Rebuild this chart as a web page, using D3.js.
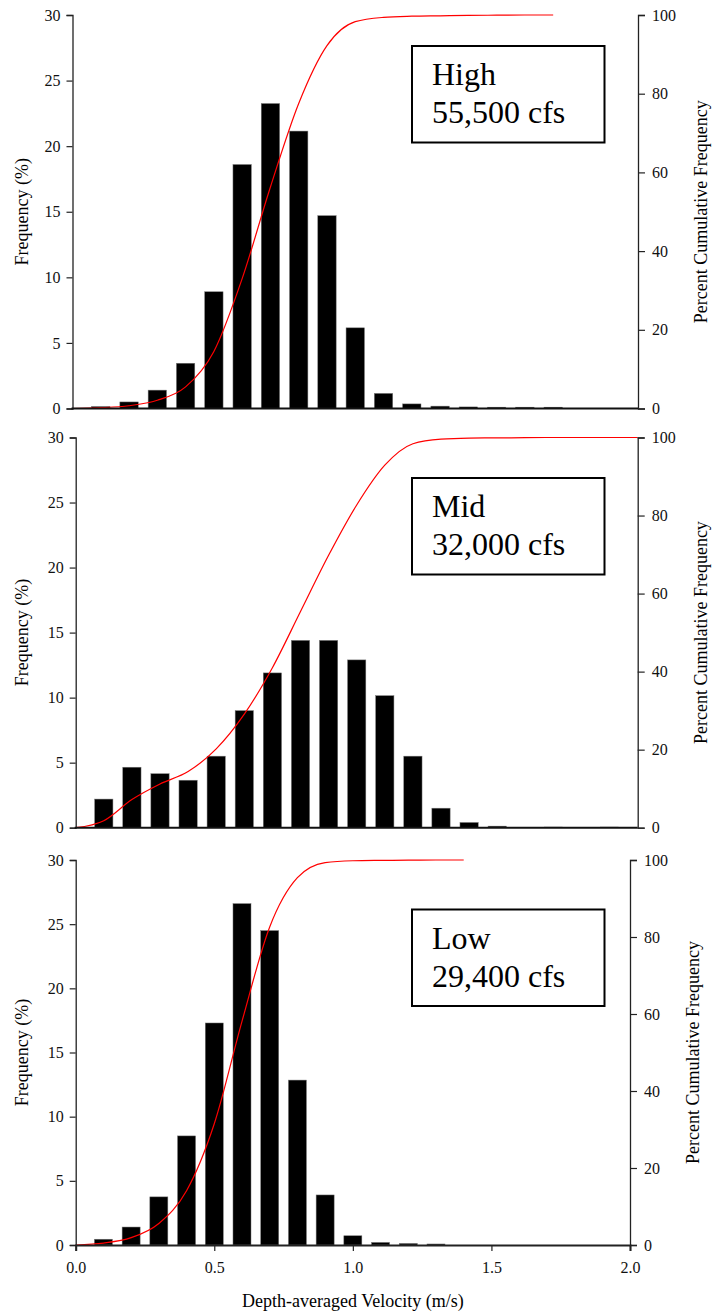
<!DOCTYPE html>
<html>
<head>
<meta charset="utf-8">
<script src="https://cdn.jsdelivr.net/npm/d3@7"></script>
<style>
  body { margin: 0; background: #fff; }
  svg { display: block; font-family: "Liberation Serif", "Times New Roman", serif; }
</style>
</head>
<body>
<svg id="chart" width="714" height="1316"></svg>
<script>
// bin centres are 0.1, 0.2, ... (m/s); cumulative curves start at 0
const highFreq = [0.15, 0.5, 1.4, 3.45, 8.9, 18.6, 23.25, 21.15, 14.7, 6.15, 1.15, 0.35, 0.18, 0.12, 0.1, 0.1, 0.1];
const highCum = [0, 0.2, 0.7, 2.1, 5.5, 14.5, 33, 56.3, 77.5, 92.2, 98.3, 99.4, 99.7, 99.8, 99.9, 99.95, 100, 100];

const midFreq = [2.2, 4.65, 4.15, 3.65, 5.5, 9.0, 11.9, 14.4, 14.4, 12.9, 10.15, 5.5, 1.5, 0.4, 0.12, 0, 0.05, 0, 0.05, 0];
const midCum = [0, 1.8, 7.2, 11.2, 14.4, 20.2, 29.1, 41.0, 55.4, 69.8, 82.7, 92.9, 98.4, 99.6, 99.85, 99.9, 99.95, 100, 100, 100, 100];

const lowFreq = [0.45, 1.4, 3.75, 8.5, 17.3, 26.6, 24.5, 12.85, 3.9, 0.72, 0.2, 0.12, 0.08];
const lowCum = [0, 0.5, 1.9, 5.6, 14.1, 31.5, 58.1, 82.6, 95.4, 99.3, 99.8, 99.9, 99.95, 100, 100];

const labels = [["High", "55,500 cfs"], ["Mid", "32,000 cfs"], ["Low", "29,400 cfs"]];
const freqTicks = [0, 5, 10, 15, 20, 25, 30];
const cumTicks = [0, 20, 40, 60, 80, 100];
const velTicks = [0, 0.5, 1.0, 1.5, 2.0];

const svg = d3.select("#chart");

// layout of each panel (pixels)
const panels = [
  { freq: highFreq, cum: highCum, label: labels[0], left: 72.5, right: 638, top: 15, bottom: 408.5, xAxis: false, boxTop: 46 },
  { freq: midFreq, cum: midCum, label: labels[1], left: 75.7, right: 637.7, top: 437.5, bottom: 827.7, xAxis: false, boxTop: 478 },
  { freq: lowFreq, cum: lowCum, label: labels[2], left: 75.7, right: 630, top: 860, bottom: 1245, xAxis: true, boxTop: 909.5 },
];

panels.forEach(drawPanel);

function drawPanel(p) {
  const g = svg.append("g");
  const x = d3.scaleLinear().domain([0, 2]).range([p.left, p.right]);
  const y = d3.scaleLinear().domain([0, 30]).range([p.bottom, p.top]);
  const y2 = d3.scaleLinear().domain([0, 100]).range([p.bottom, p.top]);
  const barW = x(0.065) - x(0);

  // bars
  g.selectAll("rect.bar")
    .data(p.freq)
    .join("rect")
    .attr("class", "bar")
    .attr("x", (d, i) => x((i + 1) / 10) - barW / 2)
    .attr("y", (d) => y(d))
    .attr("width", barW)
    .attr("height", (d) => p.bottom - y(d))
    .attr("fill", "#000")
    .attr("stroke", "#777")
    .attr("stroke-width", 0.5);

  // cumulative curve
  const line = d3.line()
    .x((d, i) => x(i / 10))
    .y((d) => y2(d))
    .curve(d3.curveMonotoneX);
  g.append("path")
    .datum(p.cum)
    .attr("d", line)
    .attr("fill", "none")
    .attr("stroke", "#ff0000")
    .attr("stroke-width", 1.2);

  // left axis
  const left = g.append("g")
    .attr("transform", `translate(${p.left},0)`)
    .call(d3.axisLeft(y).tickValues(freqTicks).tickSize(6).tickPadding(6));
  // right axis
  const right = g.append("g")
    .attr("transform", `translate(${p.right},0)`)
    .call(d3.axisRight(y2).tickValues(cumTicks).tickSize(7).tickPadding(7));

  [left, right].forEach((a) => {
    a.select(".domain").attr("stroke", "#222").attr("stroke-width", 1.3);
    a.selectAll(".tick line").attr("stroke", "#222").attr("stroke-width", 1.2);
    a.selectAll("text").attr("font-size", 16).attr("font-family", "Liberation Serif").attr("fill", "#111");
  });

  // bottom axis
  if (p.xAxis) {
    const bx = g.append("g")
      .attr("transform", `translate(0,${p.bottom})`)
      .call(d3.axisBottom(x).tickValues(velTicks).tickFormat(d3.format(".1f")).tickSize(6).tickPadding(11));
    bx.select(".domain").attr("stroke", "#222").attr("stroke-width", 2);
    bx.selectAll(".tick line").attr("stroke", "#222").attr("stroke-width", 1.2);
    bx.selectAll("text").attr("font-size", 16).attr("font-family", "Liberation Serif").attr("fill", "#111");
  } else {
    g.append("line")
      .attr("x1", p.left - 1).attr("x2", p.right)
      .attr("y1", p.bottom).attr("y2", p.bottom)
      .attr("stroke", "#111").attr("stroke-width", 2);
  }

  // axis titles
  const midY = (p.top + p.bottom) / 2;
  g.append("text")
    .attr("transform", `translate(28,${midY}) rotate(-90)`)
    .attr("text-anchor", "middle")
    .attr("font-size", 18)
    .text("Frequency (%)");
  g.append("text")
    .attr("transform", `translate(${p.right + 69},${midY}) rotate(-90)`)
    .attr("text-anchor", "middle")
    .attr("font-size", 18)
    .text("Percent Cumulative Frequency");

  // label box
  g.append("rect")
    .attr("x", 412).attr("y", p.boxTop)
    .attr("width", 192.5).attr("height", 96.5)
    .attr("fill", "#fff").attr("stroke", "#000").attr("stroke-width", 2);
  g.selectAll("text.lbl")
    .data(p.label)
    .join("text")
    .attr("class", "lbl")
    .attr("x", 432)
    .attr("y", (d, i) => p.boxTop + 39 + i * 38)
    .attr("font-size", 32)
    .text((d) => d);
}

svg.append("text")
  .attr("x", (panels[2].left + panels[2].right) / 2)
  .attr("y", 1307)
  .attr("text-anchor", "middle")
  .attr("font-size", 18)
  .text("Depth-averaged Velocity (m/s)");
</script>
</body>
</html>
